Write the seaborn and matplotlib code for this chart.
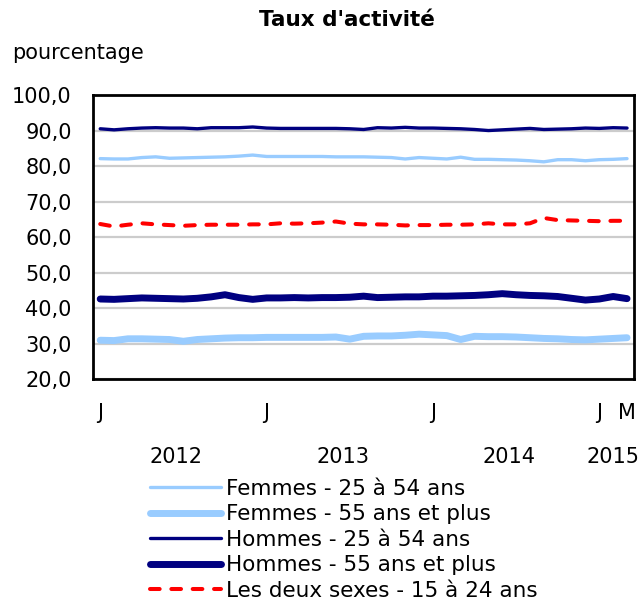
import pandas as pd
import seaborn as sns
import matplotlib.pyplot as plt
from matplotlib.ticker import FuncFormatter

# Données mensuelles, janvier 2012 à mars 2015
mois = list(range(39))

femmes_25_54 = [82.1, 82.0, 82.0, 82.4, 82.6, 82.2, 82.3, 82.4, 82.5, 82.6, 82.8, 83.1, 82.7,
                82.7, 82.7, 82.7, 82.7, 82.6, 82.6, 82.6, 82.5, 82.4, 82.0, 82.4, 82.2, 82.0,
                82.5, 81.9, 81.9, 81.8, 81.7, 81.5, 81.2, 81.8, 81.8, 81.5, 81.8, 81.9, 82.1]
femmes_55_plus = [31.0, 30.9, 31.4, 31.4, 31.3, 31.2, 30.7, 31.2, 31.4, 31.6, 31.7, 31.7, 31.8,
                  31.8, 31.8, 31.8, 31.8, 31.9, 31.3, 32.1, 32.2, 32.2, 32.4, 32.7, 32.5, 32.3,
                  31.2, 32.1, 32.0, 32.0, 31.9, 31.7, 31.5, 31.4, 31.2, 31.1, 31.3, 31.5, 31.7]
hommes_25_54 = [90.5, 90.2, 90.5, 90.7, 90.8, 90.7, 90.7, 90.5, 90.8, 90.8, 90.8, 91.0, 90.7,
                90.6, 90.6, 90.6, 90.6, 90.6, 90.5, 90.3, 90.8, 90.7, 90.9, 90.7, 90.7, 90.6,
                90.5, 90.3, 90.0, 90.2, 90.4, 90.6, 90.3, 90.4, 90.5, 90.7, 90.6, 90.8, 90.7]
hommes_55_plus = [42.6, 42.5, 42.7, 42.9, 42.8, 42.7, 42.6, 42.8, 43.2, 43.8, 43.0, 42.5, 42.9,
                  42.9, 43.0, 42.9, 43.0, 43.0, 43.1, 43.4, 43.0, 43.1, 43.2, 43.2, 43.4, 43.4,
                  43.5, 43.6, 43.8, 44.1, 43.8, 43.6, 43.5, 43.3, 42.8, 42.3, 42.6, 43.3, 42.7]
deux_sexes_15_24 = [63.7, 63.0, 63.5, 63.9, 63.6, 63.4, 63.2, 63.4, 63.5, 63.5, 63.5, 63.6, 63.6,
                    63.9, 63.8, 63.9, 64.1, 64.4, 63.8, 63.6, 63.6, 63.5, 63.3, 63.4, 63.4, 63.5,
                    63.5, 63.6, 63.9, 63.6, 63.6, 63.9, 65.4, 64.8, 64.7, 64.6, 64.5, 64.6, 64.6]

pos_mois = [0, 12, 24, 36, 38]
etiq_mois = ['J', 'J', 'J', 'J', 'M']
pos_annees = [5.5, 17.5, 29.5, 37]
etiq_annees = ['2012', '2013', '2014', '2015']

series = [
    ('Femmes - 25 à 54 ans', femmes_25_54, '#99CCFF', 2.4, None),
    ('Femmes - 55 ans et plus', femmes_55_plus, '#99CCFF', 5.0, None),
    ('Hommes - 25 à 54 ans', hommes_25_54, '#000080', 2.4, None),
    ('Hommes - 55 ans et plus', hommes_55_plus, '#000080', 5.0, None),
    ('Les deux sexes - 15 à 24 ans', deux_sexes_15_24, '#FF0000', 2.9, (2.4, 2.9)),
]

sns.set_style('white')
plt.rcParams['font.family'] = ['DejaVu Sans']
plt.rcParams['text.color'] = 'black'
plt.rcParams['xtick.color'] = 'black'
plt.rcParams['ytick.color'] = 'black'

fig = plt.figure(figsize=(6.42, 6.04), dpi=100)
ax = fig.add_axes([0.1453, 0.372, 0.8422, 0.4707])

for nom, vals, coul, lw, dash in series:
    df = pd.DataFrame({'mois': mois, 'val': vals})
    kw = dict(solid_capstyle='round', solid_joinstyle='round')
    if dash:
        kw = dict(dashes=dash, dash_capstyle='round')
    sns.lineplot(data=df, x='mois', y='val', ax=ax, color=coul, linewidth=lw,
                 label=nom, legend=False, **kw)

ax.set_xlim(-0.5, 38.5)
ax.set_ylim(20, 100)
ax.set_yticks(range(20, 101, 10))
ax.yaxis.set_major_formatter(FuncFormatter(lambda v, p: f"{v:.1f}".replace('.', ',')))
ax.yaxis.grid(True, color='#CCCCCC', linewidth=1.6)
ax.set_axisbelow(True)
ax.set_xlabel('')
ax.set_ylabel('')

ax.set_xticks(pos_mois)
ax.set_xticklabels(etiq_mois)
ax.set_xticks([i + 0.5 for i in range(38)], minor=True)
ax.tick_params(axis='x', which='major', length=0, pad=17, labelsize=15, labelcolor='black')
ax.tick_params(axis='x', which='minor', direction='in', length=4.5, width=1.5, color='black')
ax.tick_params(axis='y', length=0, pad=15.5, labelsize=15, labelcolor='black')

for sp in ax.spines.values():
    sp.set_color('black')
    sp.set_linewidth(2)

for x, t in zip(pos_annees, etiq_annees):
    ax.annotate(t, xy=(x, 0), xycoords=('data', 'axes fraction'), xytext=(0, -56),
                textcoords='offset points', ha='center', va='center', fontsize=15,
                color='black')

fig.text(347 / 642, 1 - 20 / 604, "Taux d'activité", ha='center', va='center',
         fontsize=15.5, fontweight='bold', color='black')
fig.text(12 / 642, 1 - 53 / 604, 'pourcentage', ha='left', va='center', fontsize=15,
         color='black')

handles, labels = ax.get_legend_handles_labels()
leg = fig.legend(handles, labels, loc='upper left', bbox_to_anchor=(150 / 642, 1 - 479 / 604),
                 frameon=False, fontsize=15.5, handlelength=3.3, handletextpad=0.25,
                 labelspacing=0.25, borderpad=0, borderaxespad=0)
for t in leg.get_texts():
    t.set_color('black')

plt.savefig('out.png', dpi=100)
